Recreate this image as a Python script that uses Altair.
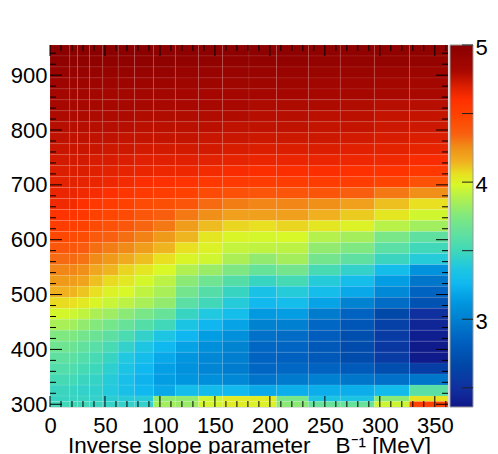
import altair as alt
import pandas as pd

# ---- data -------------------------------------------------------------
# x bin edges (inverse slope parameter, MeV)
x_edges = [0, 18, 25, 36, 48, 62, 77, 94, 114, 135, 157, 181, 206, 235, 264, 295, 327, 362]
# y bin edges, top to bottom
y_edges = [955, 935, 915, 895, 875, 855, 835, 815, 795, 775, 755, 735, 715, 695, 675, 655,
           635, 615, 595, 575, 555, 535, 515, 495, 475, 455, 435, 415, 395, 375, 355, 335,
           315, 305, 295]

# cell values per x column, listed from the top row down
c0 = [4.98,4.95,4.91,4.87,4.84,4.82,4.80,4.78,4.76,4.74,4.72,4.70,4.68,4.66,4.64,4.58,4.52,4.46,4.39,4.33,4.27,4.22,4.15,4.07,3.97,3.86,3.75,3.68,3.62,3.57,3.52,3.48,3.47,3.50]
c1 = [4.98,4.95,4.91,4.87,4.84,4.82,4.80,4.78,4.76,4.74,4.72,4.70,4.68,4.66,4.63,4.57,4.51,4.45,4.39,4.33,4.27,4.21,4.14,4.06,3.95,3.84,3.74,3.67,3.61,3.56,3.51,3.47,3.47,3.50]
c2 = [4.98,4.95,4.91,4.87,4.84,4.82,4.80,4.78,4.76,4.74,4.72,4.70,4.67,4.64,4.60,4.55,4.50,4.44,4.37,4.31,4.25,4.19,4.11,4.03,3.92,3.80,3.70,3.63,3.57,3.52,3.48,3.45,3.47,3.50]
c3 = [4.98,4.95,4.91,4.87,4.84,4.82,4.80,4.78,4.76,4.74,4.71,4.69,4.66,4.62,4.56,4.50,4.45,4.38,4.32,4.26,4.18,4.12,4.06,3.99,3.87,3.76,3.67,3.59,3.53,3.49,3.46,3.44,3.45,3.48]
c4 = [4.98,4.95,4.91,4.87,4.84,4.82,4.80,4.78,4.76,4.73,4.71,4.68,4.65,4.60,4.53,4.47,4.42,4.35,4.29,4.22,4.14,4.07,4.00,3.94,3.83,3.71,3.61,3.53,3.47,3.43,3.40,3.39,3.42,3.46]
c5 = [4.98,4.95,4.91,4.87,4.84,4.82,4.80,4.78,4.75,4.73,4.70,4.67,4.63,4.57,4.50,4.45,4.39,4.32,4.26,4.17,4.08,4.03,3.98,3.91,3.78,3.65,3.54,3.45,3.38,3.34,3.31,3.32,3.40,3.45]
c6 = [4.98,4.95,4.91,4.87,4.84,4.82,4.79,4.77,4.75,4.72,4.69,4.66,4.61,4.54,4.45,4.39,4.34,4.28,4.21,4.12,4.04,3.97,3.92,3.86,3.72,3.58,3.45,3.36,3.30,3.26,3.24,3.26,3.40,3.45]
c7 = [4.97,4.95,4.91,4.87,4.84,4.81,4.79,4.77,4.75,4.72,4.69,4.65,4.60,4.52,4.43,4.36,4.30,4.22,4.14,4.06,3.98,3.91,3.86,3.80,3.65,3.50,3.36,3.26,3.20,3.16,3.15,3.20,3.80,3.84]
c8 = [4.97,4.94,4.90,4.86,4.83,4.81,4.79,4.77,4.75,4.72,4.69,4.65,4.58,4.50,4.40,4.30,4.21,4.14,4.06,3.99,3.88,3.78,3.70,3.60,3.47,3.35,3.25,3.17,3.12,3.10,3.12,3.30,3.80,3.82]
c9 = [4.97,4.94,4.90,4.86,4.83,4.81,4.79,4.77,4.74,4.72,4.68,4.63,4.55,4.45,4.33,4.25,4.13,4.04,4.00,3.96,3.82,3.68,3.58,3.50,3.38,3.25,3.15,3.08,3.04,3.03,3.08,3.28,3.95,3.97]
c10 = [4.97,4.94,4.90,4.86,4.83,4.81,4.79,4.76,4.74,4.71,4.67,4.62,4.54,4.42,4.29,4.20,4.08,3.99,3.93,3.87,3.74,3.58,3.47,3.40,3.30,3.18,3.08,3.02,2.99,2.98,3.04,3.27,4.02,4.02]
c11 = [4.97,4.94,4.90,4.86,4.83,4.80,4.78,4.76,4.73,4.70,4.66,4.61,4.53,4.40,4.27,4.20,4.06,3.97,3.92,3.80,3.65,3.47,3.33,3.27,3.14,3.01,2.92,2.87,2.85,2.87,2.94,3.20,4.02,4.00]
c12 = [4.97,4.94,4.90,4.86,4.83,4.80,4.78,4.76,4.73,4.70,4.66,4.61,4.53,4.40,4.27,4.20,4.08,3.98,3.91,3.85,3.70,3.52,3.40,3.30,3.15,3.00,2.90,2.86,2.84,2.88,2.97,3.22,3.72,3.78]
c13 = [4.96,4.93,4.89,4.85,4.82,4.80,4.77,4.75,4.73,4.70,4.66,4.61,4.53,4.40,4.25,4.15,4.04,3.89,3.80,3.70,3.53,3.40,3.30,3.18,2.98,2.88,2.82,2.78,2.78,2.85,3.00,3.22,3.35,3.65]
c14 = [4.96,4.93,4.89,4.85,4.82,4.79,4.77,4.75,4.72,4.69,4.65,4.60,4.52,4.36,4.20,4.10,4.00,3.85,3.75,3.62,3.45,3.30,3.20,3.02,2.85,2.77,2.72,2.69,2.70,2.80,2.95,3.22,3.35,3.65]
c15 = [4.95,4.92,4.88,4.84,4.81,4.78,4.75,4.73,4.71,4.68,4.64,4.58,4.48,4.30,4.12,4.04,3.90,3.72,3.60,3.48,3.30,3.15,3.05,2.90,2.68,2.62,2.58,2.56,2.58,2.72,2.92,3.28,3.78,3.95]
c16 = [4.95,4.92,4.88,4.84,4.81,4.78,4.75,4.73,4.70,4.67,4.62,4.55,4.42,4.25,4.06,3.96,3.84,3.62,3.50,3.40,3.10,2.95,2.85,2.75,2.50,2.44,2.40,2.38,2.38,2.60,2.95,3.60,4.05,4.50]
columns = [c0, c1, c2, c3, c4, c5, c6, c7, c8, c9, c10, c11, c12, c13, c14, c15, c16]

x_major = [0, 50, 100, 150, 200, 250, 300, 350]
x_minor = [10, 20, 30, 40, 60, 70, 80, 90, 110, 120, 130, 140, 160, 170, 180, 190, 210, 220,
           230, 240, 260, 270, 280, 290, 310, 320, 330, 340, 360]
y_major = [300, 400, 500, 600, 700, 800, 900]
y_minor = [320, 340, 360, 380, 420, 440, 460, 480, 520, 540, 560, 580, 620, 640, 660, 680,
           720, 740, 760, 780, 820, 840, 860, 880, 920, 940]
colorbar_labels = [3, 4, 5]
colorbar_ticks = [2.5, 3.0, 3.5, 4.0, 4.5, 5.0]

color_stops = [2.36, 2.5, 2.67, 2.84, 3.0, 3.13, 3.26, 3.38, 3.5, 3.62, 3.75, 3.88, 3.98,
               4.06, 4.15, 4.25, 4.35, 4.48, 4.6, 4.69, 4.81, 5.0]
color_list = ["#101888", "#1030a0", "#0048a8", "#0060c0", "#0080d0", "#0098e0", "#10b8f0",
              "#20c8e0", "#40d8b8", "#60e0a0", "#80e880", "#b0f050", "#d8f828", "#e8e020",
              "#f0b020", "#f09018", "#f86010", "#ff4400", "#ff3000", "#e02000", "#a80800",
              "#880000"]

# ---- build table --------------------------------------------------------
rows = []
for i, col in enumerate(columns):
    for j, v in enumerate(col):
        rows.append({"x0": x_edges[i], "x1": x_edges[i + 1],
                     "y0": y_edges[j + 1], "y1": y_edges[j], "v": v})
cells = pd.DataFrame(rows)

W, H = 398, 362
FONT = "Liberation Sans"
xscale = alt.Scale(domain=[0, 362], nice=False, zero=False)
yscale = alt.Scale(domain=[295, 955], nice=False, zero=False)
cmin, cmax = color_stops[0], color_stops[-1]
cscale_pos = alt.Scale(domain=[cmin, cmax], nice=False, zero=False)

x_axis = alt.Axis(values=x_major, ticks=False, domain=False, grid=False,
                  labelFontSize=22, labelFont=FONT, labelColor="black",
                  labelPadding=8, labelFlush=False,
                  title="Inverse slope parameter\u00a0\u00a0\u00a0 B\u207b\u00b9 [MeV]",
                  titleFont=FONT, titleFontSize=22.5, titleFontWeight="normal",
                  titleColor="black", titleY=45, titleBaseline="alphabetic")
y_axis = alt.Axis(values=y_major, ticks=False, domain=False, grid=False,
                  labelFontSize=22, labelFont=FONT, labelColor="black",
                  labelPadding=3, labelFlush=False, title=None)
c_axis = alt.Axis(orient="right", values=colorbar_labels, format="d", ticks=False,
                  domain=False, grid=False, offset=25, labelPadding=2,
                  labelOffset=2, labelFlush=False,
                  labelFontSize=22, labelFont=FONT, labelColor="black", title=None)

heat = alt.Chart(cells).mark_rect(stroke="white", strokeWidth=0.5, strokeOpacity=0.15).encode(
    x=alt.X("x0:Q", scale=xscale, axis=x_axis),
    x2="x1:Q",
    y=alt.Y("y0:Q", scale=yscale, axis=y_axis),
    y2="y1:Q",
    color=alt.Color("v:Q",
                    scale=alt.Scale(domain=color_stops, range=color_list, interpolate="rgb"),
                    legend=None),
)

def xticks(vals, length):
    df = pd.DataFrame({"t": vals})
    base = alt.Chart(df).mark_rule(color="black", strokeWidth=1)
    bottom = base.encode(x=alt.X("t:Q", scale=xscale, axis=x_axis),
                         y=alt.value(H), y2=alt.value(H - length))
    top = base.encode(x=alt.X("t:Q", scale=xscale, axis=x_axis),
                      y=alt.value(0), y2=alt.value(length))
    return [bottom, top]

def yticks(vals, length):
    df = pd.DataFrame({"t": vals})
    base = alt.Chart(df).mark_rule(color="black", strokeWidth=1)
    left = base.encode(y=alt.Y("t:Q", scale=yscale, axis=y_axis),
                       x=alt.value(0), x2=alt.value(length))
    right = base.encode(y=alt.Y("t:Q", scale=yscale, axis=y_axis),
                        x=alt.value(W), x2=alt.value(W - length))
    return [left, right]

main = alt.layer(*([heat] + xticks(x_major, 11) + xticks(x_minor, 6)
                   + yticks(y_major, 12) + yticks(y_minor, 6)))

# ---- colour bar (gradient built from the same colour stops) -------------
grad = alt.LinearGradient(
    gradient="linear",
    stops=[alt.GradientStop(color=c, offset=(s - cmin) / (cmax - cmin))
           for s, c in zip(color_stops, color_list)],
    x1=0, x2=0, y1=1, y2=0)

cbar_rect = alt.Chart(pd.DataFrame({"c": [cmin], "c2": [cmax]})).mark_rect(
    color=grad, stroke="#999999", strokeWidth=1).encode(
    y=alt.Y("c:Q", scale=cscale_pos, axis=c_axis),
    y2="c2:Q",
    x=alt.value(W + 2), x2=alt.value(W + 25),
)
cbar_ticks = alt.Chart(pd.DataFrame({"c": colorbar_ticks})).mark_rule(
    color="#202020", strokeWidth=1).encode(
    y=alt.Y("c:Q", scale=cscale_pos, axis=c_axis),
    x=alt.value(W + 14), x2=alt.value(W + 25),
)
cbar = alt.layer(cbar_rect, cbar_ticks)

chart = alt.layer(main, cbar).resolve_scale(y="independent").properties(
    width=W, height=H,
    padding={"left": 2, "top": 28, "right": 2, "bottom": 5},
).configure_view(stroke="black", strokeWidth=1).configure(background="white")

chart.save("out.html", embed_options={"renderer": "svg", "actions": False})
